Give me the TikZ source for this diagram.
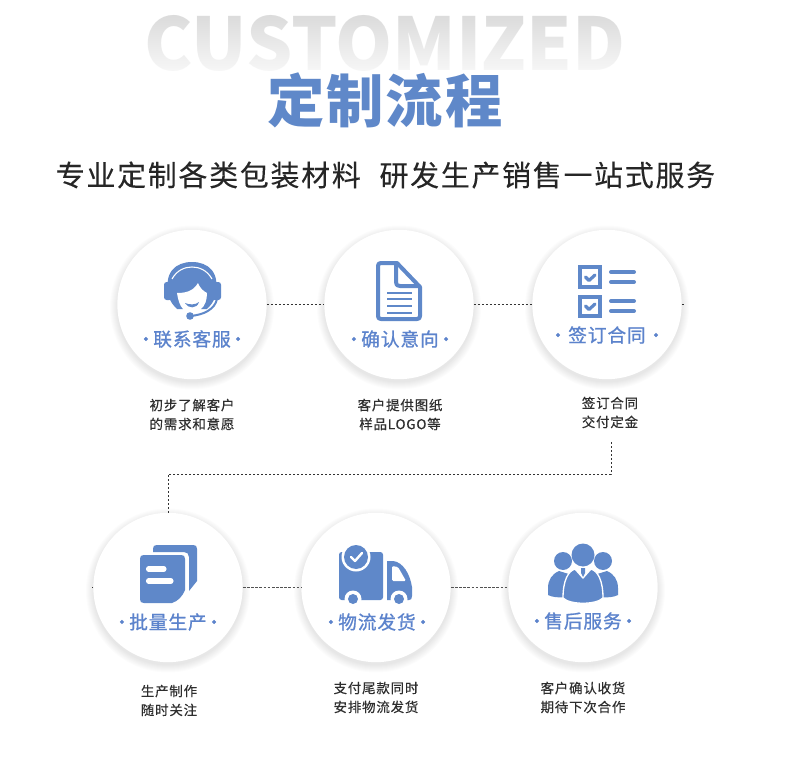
\documentclass[tikz,border=0pt]{standalone}
\usepackage{fontspec}
\usetikzlibrary{fadings}
\newfontfamily\cjk{Noto Sans CJK SC}
\newfontfamily\cjkhead[LetterSpace=3.5]{Noto Sans CJK SC}
\newfontfamily\cjksub[LetterSpace=6,FakeBold=0.15]{Noto Sans CJK SC}
\newfontfamily\cjklabel[LetterSpace=5,FakeBold=1.0]{Noto Sans CJK SC}
\newfontfamily\cjkdesc[LetterSpace=6,FakeBold=0.3]{Noto Sans CJK SC}
\definecolor{flowblue}{HTML}{5F88C9}
\definecolor{labelblue}{HTML}{5C83CC}
\definecolor{watergray}{HTML}{DADADA}
\definecolor{desctext}{HTML}{2E2E2E}
\definecolor{linkgray}{HTML}{333333}
\tikzfading[name=fadedown, top color=transparent!100, bottom color=transparent!15]
\tikzset{
	stepcircle/.style={circle, fill=white, minimum size=112pt, inner sep=0pt},
	steplabel/.style={text=labelblue, font=\fontsize{14}{14}\cjklabel, inner sep=0pt},
	stepdesc/.style={text=desctext, align=center, inner sep=0pt, font=\fontsize{10.1}{14.2}\cjkdesc},
	linkthin/.style={linkgray, line width=0.7pt, dash pattern=on 1.8pt off 1.2pt},
	linkdense/.style={linkgray!85, line width=1.3pt, dash pattern=on 2pt off 1.1pt},
	iconline/.style={flowblue, line cap=round, line join=round}
}
\newcommand{\softshadow}[2]{
	\foreach \r in {75,76,77,78,79,80,81,82}
		\fill[black, opacity=0.012] (#1,#2+3) circle[radius=\r];
}
\newcommand{\sidedot}{\kern-1.5pt}
\begin{document}
\begin{tikzpicture}[x=0.75pt, y=-0.75pt]
		\useasboundingbox (0,0) rectangle (790,767);
		\fill[white] (0,0) rectangle (790,767);
		
		% Heading
		\node[inner sep=0pt, text=watergray, font=\fontsize{54.5}{55}\cjk\bfseries] (watermark) at (385,43) {CUSTOMIZED};
		\fill[white, path fading=fadedown] (130,12) rectangle (640,76);
		\node[inner sep=0pt, text=flowblue, font=\fontsize{43}{43}\cjkhead\bfseries] (heading) at (385,100) {定制流程};
		\node[inner sep=0pt, text=black!85, font=\fontsize{21.7}{21.7}\cjksub] (subhead) at (385.5,175) {专业定制各类包装材料\hspace{14pt}研发生产销售一站式服务};
		
		% Shadows
		\softshadow{192}{304.5}
		\softshadow{399}{304.5}
		\softshadow{607}{304.5}
		\softshadow{168}{587.5}
		\softshadow{376}{587.5}
		\softshadow{583}{587.5}
		
		% Free ends of the connectors
		\coordinate (stubright) at (684,304.5);
		\coordinate (stubleft) at (92,587.5);
		\coordinate (turnstart) at (611,442);
		\coordinate (turnright) at (611,474);
		\coordinate (turnleft) at (168,474);
		
		% Steps
		\node[stepcircle] (service) at (192,304.5) {};
		\node[stepcircle] (intent) at (399,304.5) {};
		\node[stepcircle] (contract) at (607,304.5) {};
		\node[stepcircle] (batch) at (168,587.5) {};
		\node[stepcircle] (freight) at (376,587.5) {};
		\node[stepcircle] (aftersale) at (583,587.5) {};
		
		% Connectors
		\draw[linkthin] (service) -- (intent);
		\draw[linkthin] (intent) -- (contract);
		\draw[linkthin] (contract) -- (stubright);
		\draw[linkthin] (turnstart) -- (turnright) -- (turnleft) -- (batch.north);
		\draw[linkthin] (stubleft) -- (batch);
		\draw[linkdense] (batch) -- (freight);
		\draw[linkdense] (freight) -- (aftersale);
		
		% Labels
		\node[steplabel] (servicelabel) at (192,339) {·\sidedot 联系客服\sidedot ·};
		\node[steplabel] (intentlabel) at (400,339) {·\sidedot 确认意向\sidedot ·};
		\node[steplabel] (contractlabel) at (607,335) {·签订合同·};
		\node[steplabel] (batchlabel) at (168,622) {·\sidedot 批量生产\sidedot ·};
		\node[steplabel] (freightlabel) at (377,622) {·\sidedot 物流发货\sidedot ·};
		\node[steplabel] (aftersalelabel) at (583,621) {·\sidedot 售后服务\sidedot ·};
		
		% Descriptions
		\node[stepdesc] (servicedesc) at (192,414.5) {初步了解客户\\的需求和意愿};
		\node[stepdesc] (intentdesc) at (400,414.5) {客户提供图纸\\样品LOGO等};
		\node[stepdesc] (contractdesc) at (610,412.5) {签订合同\\交付定金};
		\node[stepdesc] (batchdesc) at (169,700.5) {生产制作\\随时关注};
		\node[stepdesc] (freightdesc) at (376,697.5) {支付尾款同时\\安排物流发货};
		\node[stepdesc] (aftersaledesc) at (583,697.5) {客户确认收货\\期待下次合作};
		
		% Headset icon
		\fill[flowblue] (169,296) .. controls (163,272) and (176,262) .. (192,262) .. controls (208,262) and (221,272) .. (215,296) .. controls (214,302) and (210,306) .. (207,309) -- (177,309) .. controls (174,306) and (170,302) .. (169,296) -- cycle;
		\fill[flowblue, rounded corners=2pt] (164,282) rectangle (172,300);
		\fill[flowblue, rounded corners=2pt] (212,282) rectangle (221,300);
		\draw[white, line width=0.8pt] (172,279) .. controls (177,270) and (185,267) .. (192,267) .. controls (199,267) and (207,270) .. (212,279);
		\fill[white] (177,293) .. controls (184,293) and (193,292) .. (198,283) .. controls (200,288) and (203,291) .. (207,293) .. controls (207,300) and (205,306) .. (201,309) -- (198,316) -- (186,316) -- (183,309) .. controls (180,306) and (178,300) .. (177,293) -- cycle;
		\fill[flowblue] (185,303) .. controls (189,305) and (196,305) .. (199,302) .. controls (197,309) and (188,309) .. (185,303) -- cycle;
		\draw[iconline, line width=1.5pt] (217,299) .. controls (215,309) and (204,315) .. (190,316);
		\fill[flowblue] (190,316) circle[radius=3.8];
		
		% Document icon
		\draw[iconline, line width=3pt] (381,263) -- (397,263) -- (420,287) -- (420,316) .. controls (420,318) and (419,319) .. (417,319) -- (381,319) .. controls (379,319) and (378,318) .. (378,316) -- (378,266) .. controls (378,264) and (379,263) .. (381,263) -- cycle;
		\draw[iconline, line width=3pt] (396,264) -- (396,282) .. controls (396,285) and (397,286) .. (400,286) -- (419,286);
		\foreach \ly in {293,299,306,313}
			\draw[flowblue, line width=1.3pt] (387,\ly) -- (412,\ly);
		
		% Checklist icon
		\draw[flowblue, line width=3.2pt] (580,267) rectangle (600,287);
		\draw[flowblue, line width=3.2pt] (580,297) rectangle (600,316);
		\draw[iconline, line width=2.4pt] (585.5,277) -- (589,280.5) -- (595,275);
		\draw[iconline, line width=2.4pt] (585.5,306) -- (589,309.5) -- (595,304);
		\foreach \ly in {272,282,301,311}
			\draw[flowblue, line width=3pt, line cap=round] (611,\ly) -- (634,\ly);
		
		% Sheets icon
		\fill[flowblue] (153,552) -- (153,549) .. controls (153,546) and (154,545) .. (157,545) -- (193,545) .. controls (196,545) and (197,546) .. (197,549) -- (197,581) -- (189,591) -- (189,557) .. controls (189,554) and (187,552) .. (184,552) -- cycle;
		\fill[flowblue] (144,555) -- (181,555) .. controls (184,555) and (185,556) .. (185,559) -- (185,590) .. controls (182,597) and (178,601) .. (172,603) -- (144,603) .. controls (141,603) and (140,602) .. (140,599) -- (140,559) .. controls (140,556) and (141,555) .. (144,555) -- cycle;
		\draw[white, line width=3.8pt, line cap=round] (148.5,569) -- (164,569);
		\draw[white, line width=3.8pt, line cap=round] (148.5,581) -- (171,581);
		
		% Truck icon
		\fill[flowblue, rounded corners=2pt] (339,552) rectangle (383,600);
		\fill[flowblue] (387,561) -- (393,561) .. controls (403,562) and (410,574) .. (412,587) -- (412,596) .. controls (412,599) and (411,600) .. (409,600) -- (387,600) -- cycle;
		\fill[white, rounded corners=1pt] (392,566) -- (398,567) -- (406,581) -- (392,581) -- cycle;
		\fill[white] (356,557) circle[radius=14.5];
		\fill[flowblue] (356,557) circle[radius=12];
		\draw[white, line width=1.8pt, line cap=round, line join=round] (351,557) -- (355,561) -- (362,553);
		\foreach \wx in {353,399} {
			\fill[white] (\wx,599) circle[radius=8.5];
			\fill[flowblue] (\wx,599) circle[radius=5];
		}
		
		% People icon
		\fill[flowblue] (563,561) circle[radius=9];
		\fill[flowblue] (603,561) circle[radius=9];
		\fill[flowblue] (559,571) .. controls (552,574) and (548,580) .. (548,588) -- (548,595) .. controls (552,597) and (558,598) .. (566,597) -- (572,575) -- cycle;
		\fill[flowblue] (607,571) .. controls (614,574) and (618,580) .. (618,588) -- (618,595) .. controls (614,597) and (608,598) .. (600,597) -- (594,575) -- cycle;
		\draw[fill=flowblue, draw=white, line width=1pt] (575,569) .. controls (568,571) and (563,581) .. (563,598) .. controls (570,605) and (596,605) .. (603,598) .. controls (603,581) and (598,571) .. (591,569) -- (583,578) -- cycle;
		\fill[flowblue] (583,555) circle[radius=11.5];
		\fill[flowblue] (581,568) -- (585,568) -- (585,573) -- (583,577) -- (581,573) -- cycle;
	\end{tikzpicture}
\end{document}
